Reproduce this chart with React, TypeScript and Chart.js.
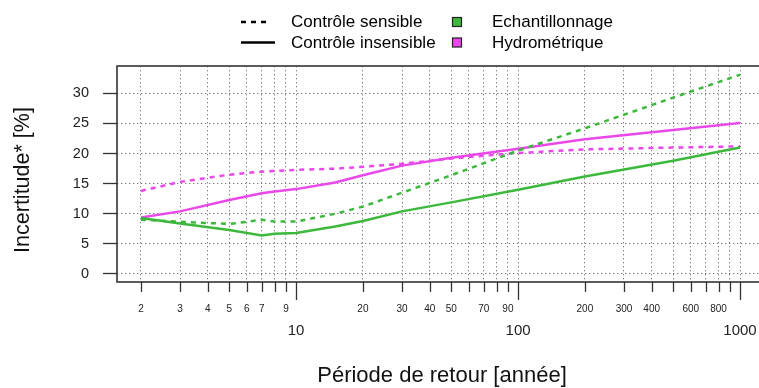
import React, { useEffect, useRef } from "react";
import { Chart, registerables } from "chart.js";

Chart.register(...registerables);

// Return periods (years)
const periods = [2, 3, 5, 7, 8, 10, 15, 20, 30, 50, 100, 200, 500, 1000];
// Uncertainty [%]
const echantSensible = [9.0, 8.7, 8.3, 9.0, 8.7, 8.7, 10.0, 11.2, 13.5, 16.4, 20.5, 24.2, 29.3, 33.1];
const echantInsensible = [9.3, 8.4, 7.3, 6.4, 6.7, 6.8, 7.9, 8.8, 10.4, 11.9, 14.0, 16.2, 18.8, 21.0];
const hydroSensible = [13.8, 15.3, 16.5, 17.0, 17.1, 17.3, 17.5, 17.8, 18.3, 19.2, 20.1, 20.7, 21.0, 21.2];
const hydroInsensible = [9.4, 10.4, 12.3, 13.4, 13.7, 14.1, 15.2, 16.4, 18.0, 19.3, 20.8, 22.4, 23.9, 25.1];

const yTicks = [0, 5, 10, 15, 20, 25, 30];
const xTicks = [2, 3, 4, 5, 6, 7, 8, 9, 10, 20, 30, 40, 50, 60, 70, 80, 90, 100, 200, 300, 400, 500, 600, 700, 800, 900, 1000];
const xMinorLabels = [2, 3, 4, 5, 6, 7, 9, 20, 30, 40, 50, 70, 90, 200, 300, 400, 600, 800];
const xMajorLabels = [10, 100, 1000];

const legendLines = ["Contrôle sensible", "Contrôle insensible"];
const legendSeries = ["Echantillonnage", "Hydrométrique"];

const GREEN = "#3cb93c";
const MAGENTA = "#ea48ea";
const FONT = "'Liberation Sans', Arial, sans-serif";
const DASH = [5, 5];
const GRID = "#7a7a7a";

const toPoints = (vals: number[]) => periods.map((p, i) => ({ x: p, y: vals[i] }));

const decorPlugin = {
  id: "decor",
  afterDraw(chart: any) {
    const { ctx, chartArea } = chart;
    const xs = chart.scales.x;
    const { left, top, right, bottom } = chartArea;
    ctx.save();
    // box
    ctx.strokeStyle = "#333";
    ctx.lineWidth = 1.6;
    ctx.setLineDash([]);
    ctx.strokeRect(left, top, right - left, bottom - top);
    // x ticks
    ctx.lineWidth = 1.3;
    xTicks.forEach((t) => {
      const px = Math.round(xs.getPixelForValue(t)) + 0.5;
      const major = xMajorLabels.includes(t);
      ctx.beginPath();
      ctx.moveTo(px, bottom);
      ctx.lineTo(px, bottom + (major ? 18 : 10));
      ctx.stroke();
    });
    // x labels
    ctx.fillStyle = "#222";
    ctx.textAlign = "center";
    ctx.textBaseline = "middle";
    ctx.font = `10px ${FONT}`;
    xMinorLabels.forEach((t) => {
      ctx.fillText(String(t), xs.getPixelForValue(t), 309);
    });
    ctx.font = `15px ${FONT}`;
    xMajorLabels.forEach((t) => {
      ctx.fillText(String(t), xs.getPixelForValue(t), 331);
    });
    // axis titles
    ctx.fillStyle = "#111";
    ctx.font = `22px ${FONT}`;
    ctx.fillText("Période de retour [année]", 442, 376);
    ctx.save();
    ctx.translate(23, 180);
    ctx.rotate(-Math.PI / 2);
    ctx.font = `21.5px ${FONT}`;
    ctx.fillText("Incertitude* [%]", 0, 0);
    ctx.restore();
    // legend
    ctx.strokeStyle = "#000";
    ctx.lineWidth = 2.5;
    ctx.setLineDash(DASH);
    ctx.beginPath();
    ctx.moveTo(241, 22);
    ctx.lineTo(267, 22);
    ctx.stroke();
    ctx.setLineDash([]);
    ctx.beginPath();
    ctx.moveTo(241, 42.5);
    ctx.lineTo(275, 42.5);
    ctx.stroke();
    ctx.font = `17px ${FONT}`;
    ctx.textAlign = "left";
    ctx.fillStyle = "#000";
    ctx.fillText(legendLines[0], 291, 22);
    ctx.fillText(legendLines[1], 291, 43);
    ctx.fillText(legendSeries[0], 492, 22);
    ctx.fillText(legendSeries[1], 492, 43);
    ctx.lineWidth = 1.2;
    ctx.strokeStyle = "#222";
    ctx.fillStyle = GREEN;
    ctx.fillRect(452.5, 17.5, 9, 9);
    ctx.strokeRect(452.5, 17.5, 9, 9);
    ctx.fillStyle = MAGENTA;
    ctx.fillRect(452.5, 38, 9, 9);
    ctx.strokeRect(452.5, 38, 9, 9);
    ctx.restore();
  },
};

export default function App() {
  const ref = useRef<HTMLCanvasElement | null>(null);
  useEffect(() => {
    if (!ref.current) return;
    const ds = (label: string, vals: number[], color: string, dashed: boolean) => ({
      label,
      data: toPoints(vals),
      borderColor: color,
      backgroundColor: color,
      borderWidth: 2.5,
      borderDash: dashed ? DASH : [],
      pointRadius: 0,
      fill: false,
      tension: 0,
    });
    const chart = new Chart(ref.current, {
      type: "line",
      data: {
        datasets: [
          ds("Echantillonnage - Contrôle sensible", echantSensible, GREEN, true),
          ds("Echantillonnage - Contrôle insensible", echantInsensible, GREEN, false),
          ds("Hydrométrique - Contrôle sensible", hydroSensible, MAGENTA, true),
          ds("Hydrométrique - Contrôle insensible", hydroInsensible, MAGENTA, false),
        ],
      },
      options: {
        responsive: false,
        animation: false,
        devicePixelRatio: 1,
        layout: { padding: { top: 66, right: 6, left: 0, bottom: 0 } },
        plugins: { legend: { display: false }, tooltip: { enabled: false } },
        scales: {
          x: {
            type: "logarithmic",
            min: Math.pow(10, 0.193),
            max: Math.pow(10, 3.108),
            afterBuildTicks: (s: any) => {
              s.ticks = xTicks.map((v) => ({ value: v }));
            },
            afterFit: (s: any) => {
              s.height = 106;
            },
            ticks: { display: false },
            grid: { color: GRID, lineWidth: 1, drawTicks: false },
            border: { display: false, dash: [1.3, 2.7] },
          },
          y: {
            type: "linear",
            min: -1.33,
            max: 34.55,
            afterBuildTicks: (s: any) => {
              s.ticks = yTicks.map((v) => ({ value: v }));
            },
            afterFit: (s: any) => {
              s.width = 117;
            },
            ticks: {
              font: { family: FONT, size: 14.5 },
              color: "#222",
              padding: 14,
            },
            grid: {
              color: GRID,
              lineWidth: 1,
              drawTicks: true,
              tickLength: 14,
              tickColor: "#333",
              tickWidth: 1.3,
              tickBorderDash: [],
            },
            border: { display: false, dash: [1.3, 2.7] },
          },
        },
      },
      plugins: [decorPlugin],
    });
    return () => chart.destroy();
  }, []);
  return (
    <div style={{ position: "fixed", left: 0, top: 0, width: 759, height: 388, overflow: "hidden", background: "#fff" }}>
      <canvas ref={ref} width={770} height={388} style={{ display: "block" }} />
    </div>
  );
}
